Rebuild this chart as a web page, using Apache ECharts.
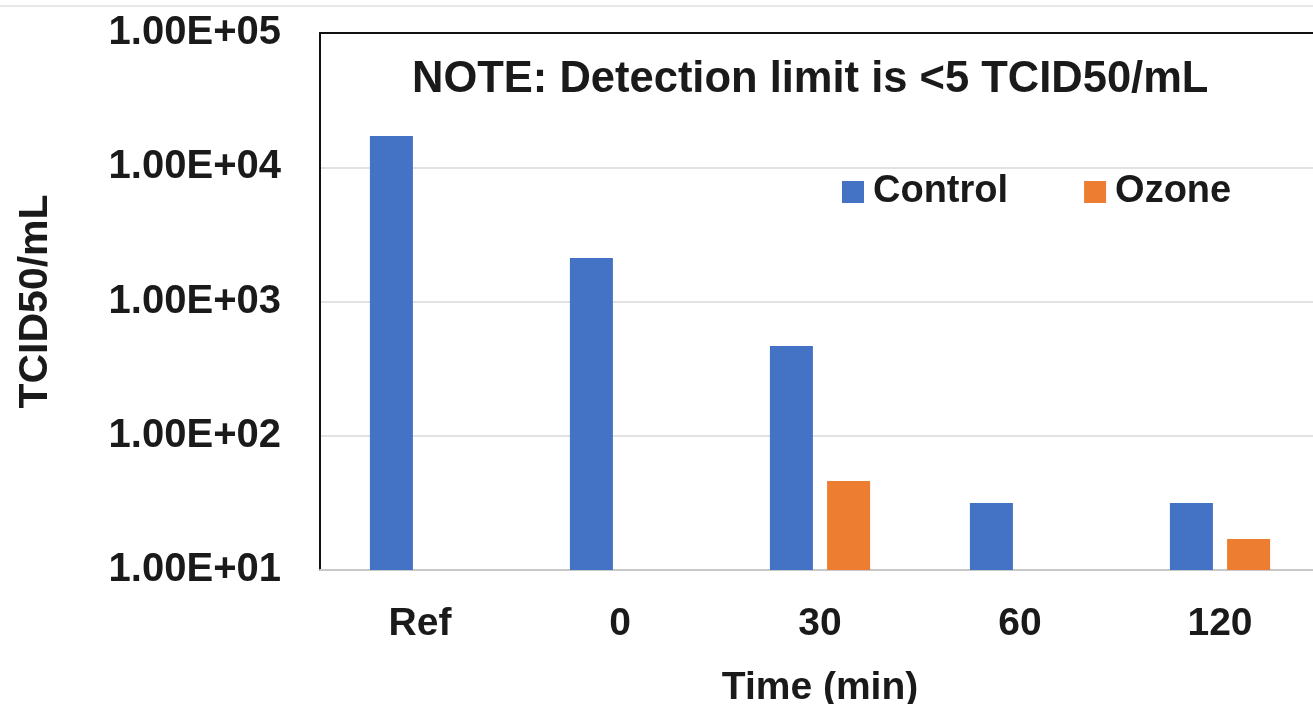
<!DOCTYPE html>
<html>
<head>
<meta charset="utf-8">
<script src="https://cdn.jsdelivr.net/npm/echarts@6/dist/echarts.min.js"></script>
<style>
html,body{margin:0;padding:0;background:#fff;}
#chart{width:1313px;height:704px;}
</style>
</head>
<body>
<div id="chart"></div>
<script>
const categories = ['Ref', '0', '30', '60', '120'];
const controlValues = [17100, 2110, 467, 31.6, 31.6];
const ozoneValues = [null, null, 46, null, 17];
const yTickLabels = ['1.00E+01', '1.00E+02', '1.00E+03', '1.00E+04', '1.00E+05'];
const titleText = 'NOTE: Detection limit is <5 TCID50/mL';

const FONT = 'Liberation Sans, Arial, sans-serif';
const chart = echarts.init(document.getElementById('chart'));
chart.setOption({
  backgroundColor: '#fff',
  animation: false,
  title: {
    text: titleText,
    left: 407, top: 53,
    textStyle: {fontFamily: FONT, fontWeight: 'bold', fontSize: 43.5, color: '#1a1a1a'}
  },
  legend: {
    left: 838, top: 171,
    itemWidth: 22, itemHeight: 22, itemGap: 76,
    icon: 'rect',
    backgroundColor: '#fff',
    padding: [2, 4],
    textStyle: {fontFamily: FONT, fontWeight: 'bold', fontSize: 38, color: '#1a1a1a', padding: [0, 0, 0, 4]},
    data: ['Control', 'Ozone']
  },
  graphic: [{
    type: 'line', shape: {x1: 0, y1: 6, x2: 1313, y2: 6},
    style: {stroke: '#e8e8e8', lineWidth: 2}, silent: true
  }],
  grid: {left: 320, right: -7, top: 33, bottom: 134, containLabel: false, outerBoundsMode: 'none'},
  xAxis: [{
    type: 'category', data: categories,
    axisLine: {show: true, lineStyle: {color: '#c8c8c8', width: 2}},
    axisTick: {show: false},
    axisLabel: {fontFamily: FONT, fontWeight: 'bold', fontSize: 39, color: '#1a1a1a', margin: 35},
    name: 'Time (min)', nameLocation: 'middle', nameGap: 99,
    nameTextStyle: {fontFamily: FONT, fontWeight: 'bold', fontSize: 39, color: '#1a1a1a'}
  }, {
    type: 'category', data: categories, position: 'top',
    axisLine: {show: true, lineStyle: {color: '#111', width: 2}},
    axisTick: {show: false}, axisLabel: {show: false}
  }],
  yAxis: {
    type: 'log', logBase: 10, min: 10, max: 100000,
    axisLine: {show: true, lineStyle: {color: '#111', width: 2}},
    axisTick: {show: false},
    splitLine: {show: true, lineStyle: {color: '#d9d9d9', width: 1.5}},
    axisLabel: {
      fontFamily: FONT, fontWeight: 'bold', fontSize: 40, color: '#1a1a1a', margin: 39,
      formatter: function (v) {
        const i = Math.round(Math.log10(v)) - 1;
        return yTickLabels[i] || '';
      }
    },
    name: 'TCID50/mL', nameLocation: 'middle', nameGap: 264, nameRotate: 90,
    nameTextStyle: {fontFamily: FONT, fontWeight: 'bold', fontSize: 41, color: '#1a1a1a'}
  },
  series: [{
    name: 'Control', type: 'bar', data: controlValues,
    barWidth: 43, barGap: '33%',
    itemStyle: {color: '#4472C4'}
  }, {
    name: 'Ozone', type: 'bar', data: ozoneValues,
    barWidth: 43, barGap: '33%',
    itemStyle: {color: '#ED7D31'}
  }]
});
</script>
</body>
</html>
